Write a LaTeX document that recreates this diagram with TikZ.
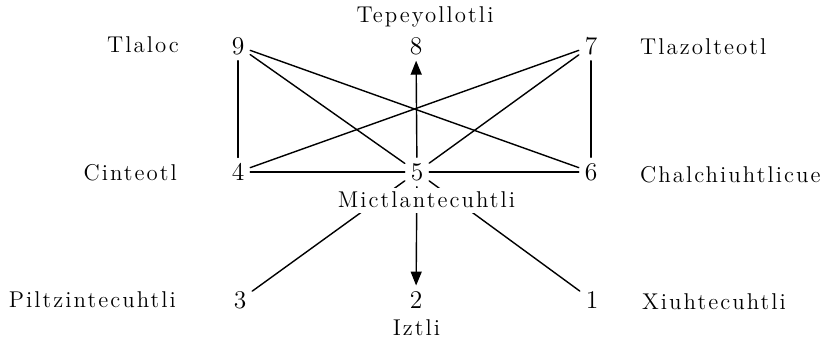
\documentclass[tikz,border=0pt]{standalone}
\usepackage{fontspec}
\setmainfont{lmroman12-regular.otf}[LetterSpace=9]
\usetikzlibrary{arrows.meta}
\begin{document}
\begin{tikzpicture}[line cap=round, line join=round,
    num/.style={inner sep=3pt, outer sep=0.4pt, font=\fontsize{14.5}{16}\selectfont},
    god/.style={inner sep=1pt, font=\fontsize{13}{15}\selectfont},
    link/.style={line width=0.8pt},
    arr/.style={line width=0.8pt, -{Triangle[length=0.28cm, width=0.22cm]}}]
  \useasboundingbox (0,0) rectangle (16.5,6.84);
  \node[num] (n9) at (4.76,5.92) {9};
  \node[num] (n8) at (8.32,5.92) {8};
  \node[num] (n7) at (11.82,5.92) {7};
  \node[num] (n4) at (4.76,3.40) {4};
  \node[num] (n5) at (8.34,3.40) {5};
  \node[num] (n6) at (11.82,3.40) {6};
  \node[num] (n3) at (4.80,0.84) {3};
  \node[num] (n2) at (8.32,0.84) {2};
  \node[num] (n1) at (11.84,0.84) {1};
  \draw[link] (n9) -- (n4);
  \draw[link] (n7) -- (n6);
  \draw[link] (n9) -- (n5);
  \draw[link] (n9) -- (n6);
  \draw[link] (n7) -- (n4);
  \draw[link] (n7) -- (n5);
  \draw[link] (n4) -- (n5) -- (n6);
  \draw[link] (n5) -- (n3);
  \draw[link] (n5) -- (n1);
  \draw[arr] (n5) -- (n8);
  \draw[arr] (n5) -- (n2);
  \node[god, anchor=base east] (t9) at (3.62,5.78) {Tlaloc};
  \node[god, anchor=base east] (t4) at (3.58,3.22) {Cinteotl};
  \node[god, anchor=base east] (t3) at (3.56,0.68) {Piltzintecuhtli};
  \node[god, anchor=base west] (t7) at (12.76,5.74) {Tlazolteotl};
  \node[god, anchor=base west] (t6) at (12.76,3.18) {Chalchiuhtlicue};
  \node[god, anchor=base west] (t1) at (12.80,0.64) {Xiuhtecuhtli};
  \node[god, anchor=base] (t8) at (8.50,6.38) {Tepeyollotli};
  \node[god, anchor=base, fill=white, inner sep=2.5pt] (t5) at (8.53,2.68) {Mictlantecuhtli};
  \node[god, anchor=base] (t2) at (8.33,0.12) {Iztli};
\end{tikzpicture}
\end{document}
